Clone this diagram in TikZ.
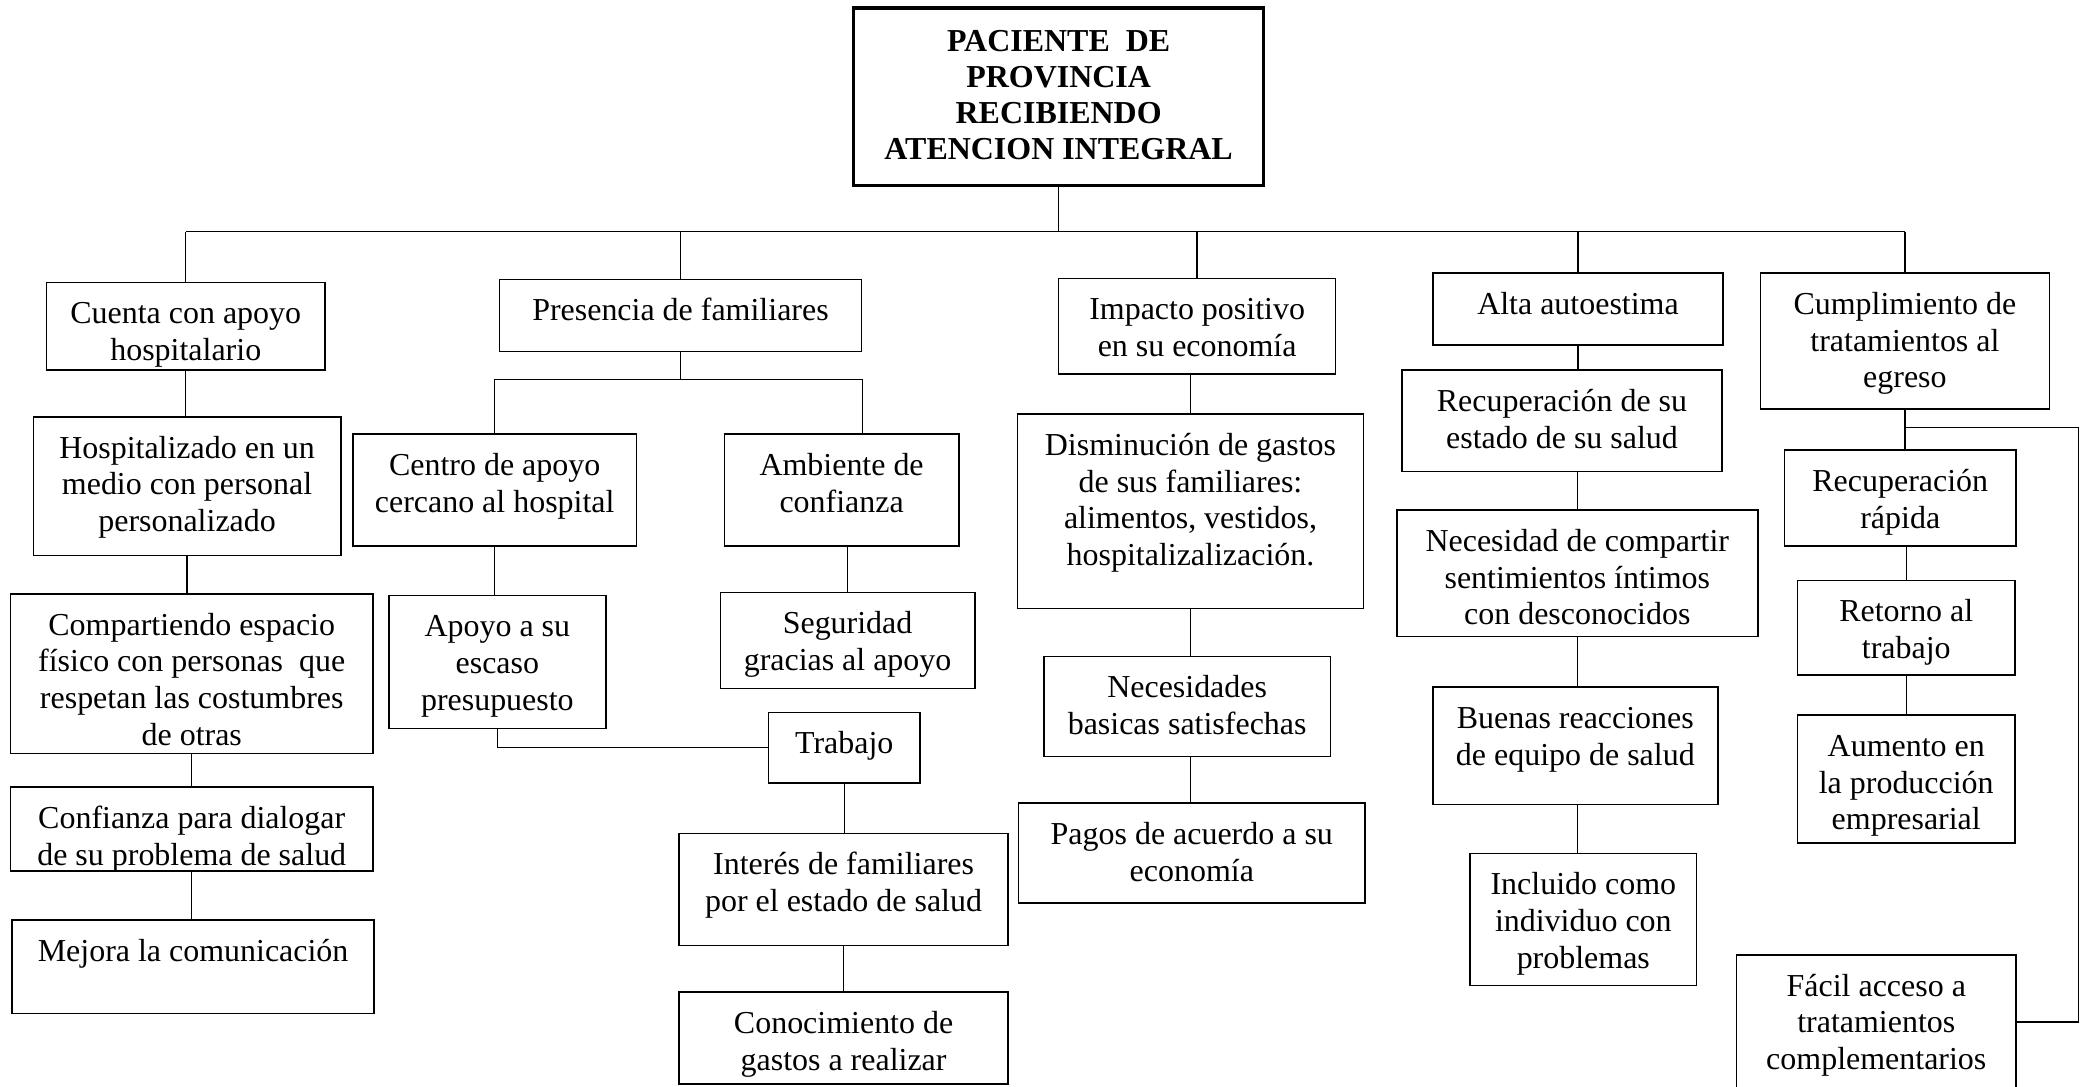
\documentclass[tikz,border=0pt]{standalone}
\usepackage{fontspec}
\setmainfont{Liberation Serif}
\usepackage{tikz}
\usetikzlibrary{positioning, calc}

\begin{document}
\begin{tikzpicture}[x=0.5pt, y=-0.5pt,
    box/.style={draw, line width=0.55pt, rectangle, align=flush center, inner sep=0pt,
      text height=15.5pt, font=\fontsize{12}{13.8}\selectfont},
    headbox/.style={draw, line width=1.2pt, rectangle, align=flush center, inner sep=0pt,
      text height=16.5pt, font=\bfseries\fontsize{12}{13.5}\selectfont},
    link/.style={line width=0.55pt}]
  \useasboundingbox (0,0) rectangle (1568,816);
  \clip (0,0) rectangle (1568,816);

  % main box
  \node[headbox, text width=154pt, text depth=50pt] (title) at (795,72.5)
    {PACIENTE\ \ DE\\PROVINCIA\\RECIBIENDO\\ATENCION INTEGRAL};

  % first row
  \node[box, text width=104.5pt, text depth=17.5pt] (cuenta) at (139.5,245) {Cuenta con apoyo\\hospitalario};
  \node[box, text width=136pt, text depth=11.5pt] (presencia) at (511,237) {Presencia de familiares};
  \node[box, text width=104pt, text depth=20.5pt] (impacto) at (899,245) {Impacto positivo\\en su economía};
  \node[box, text width=109pt, text depth=11.5pt] (alta) at (1185,232) {Alta autoestima};
  \node[box, text width=108.5pt, text depth=35.5pt] (cumpl) at (1430.5,256) {Cumplimiento de\\tratamientos al\\egreso};

  % apoyo hospitalario
  \node[box, text width=115.5pt, text depth=36.5pt] (hosp) at (140.5,365) {Hospitalizado en un\\medio con personal\\personalizado};
  \node[box, text width=136pt, text depth=44.5pt] (compart) at (144,506) {Compartiendo espacio\\físico con personas\ \ que\\respetan las costumbres\\de otras};
  \node[box, text width=136pt, text depth=16pt] (confianza) at (144,622.5) {Confianza para dialogar\\de su problema de salud};
  \node[box, text width=136pt, text depth=19.5pt] (mejora) at (145,726) {Mejora la comunicación};

  % familiares
  \node[box, text width=106.5pt, text depth=26.5pt] (centro) at (371.5,368) {Centro de apoyo\\cercano al hospital};
  \node[box, text width=88pt, text depth=26.5pt] (ambiente) at (632,368) {Ambiente de\\confianza};
  \node[box, text width=81.5pt, text depth=34.5pt] (apoyo) at (373.5,497) {Apoyo a su\\escaso\\presupuesto};
  \node[box, text width=95.5pt, text depth=20.5pt] (seguridad) at (636.5,481) {Seguridad\\gracias al apoyo};
  \node[box, text width=57pt, text depth=11pt] (trabajo) at (634,561.5) {Trabajo};
  \node[box, text width=123.5pt, text depth=26.5pt] (interes) at (633.5,668) {Interés de familiares\\por el estado de salud};
  \node[box, text width=123.5pt, text depth=19pt] (conoc) at (633.5,779.5) {Conocimiento de\\gastos a realizar};

  % economia
  \node[box, text width=130pt, text depth=57.5pt] (dismin) at (894,384) {Disminución de gastos\\de sus familiares:\\alimentos, vestidos,\\hospitalizalización.};
  \node[box, text width=107.5pt, text depth=22pt] (necesid) at (891.5,530.5) {Necesidades\\basicas satisfechas};
  \node[box, text width=130pt, text depth=22pt] (pagos) at (895,640.5) {Pagos de acuerdo a su\\economía};

  % autoestima
  \node[box, text width=120pt, text depth=22.5pt] (recup) at (1173,316) {Recuperación de su\\estado de su salud};
  \node[box, text width=135.5pt, text depth=32pt] (necesidad) at (1184.5,430.5) {Necesidad de compartir\\sentimientos íntimos\\con desconocidos};
  \node[box, text width=107pt, text depth=28.5pt] (buenas) at (1183,560) {Buenas reacciones\\de equipo de salud};
  \node[box, text width=85pt, text depth=34pt] (incluido) at (1189,690.5) {Incluido como\\individuo con\\problemas};

  % egreso
  \node[box, text width=87pt, text depth=20.5pt] (rrap) at (1427,374) {Recuperación\\rápida};
  \node[box, text width=81.5pt, text depth=20pt] (retorno) at (1431.5,471.5) {Retorno al\\trabajo};
  \node[box, text width=81.5pt, text depth=32.5pt] (aumento) at (1431.5,585) {Aumento en\\la producción\\empresarial};
  \node[box, text width=105pt, text depth=35pt] (facil) at (1409,767.5) {Fácil acceso a\\tratamientos\\complementarios};

  \coordinate (bar) at (793,174);
  \coordinate (pfork) at (511,285);
  \coordinate (cfork) at (1430.5,321);
  \coordinate (cright) at (1561,321);

  % top level
  \draw[link] (title.south) -- (title.south |- bar);
  \draw[link] (cuenta.north |- bar) -- (cumpl.north |- bar);
  \foreach \n in {cuenta, presencia, impacto, alta, cumpl}
    \draw[link] (\n.north) -- (\n.north |- bar);

  % apoyo hospitalario
  \draw[link] (cuenta.south) -- (cuenta.south |- hosp.north);
  \draw[link] (hosp.south) -- (hosp.south |- compart.north);
  \draw[link] (compart.south) -- (compart.south |- confianza.north);
  \draw[link] (confianza.south) -- (confianza.south |- mejora.north);

  % familiares
  \draw[link] (presencia.south) -- (pfork);
  \draw[link] (centro.north) -- (centro.north |- pfork) -- (presencia.south east |- pfork)
    -- (presencia.south east |- ambiente.north);
  \draw[link] (centro.south) -- (centro.south |- apoyo.north);
  \draw[link] (seguridad.north) -- (seguridad.north |- ambiente.south);
  \draw[link] (apoyo.south) |- (trabajo.west);
  \draw[link] (trabajo.south) -- (trabajo.south |- interes.north);
  \draw[link] (interes.south) -- (interes.south |- conoc.north);

  % economia
  \draw[link] (dismin.north |- impacto.south) -- (dismin.north);
  \draw[link] (dismin.south) -- (dismin.south |- necesid.north);
  \draw[link] (dismin.south |- necesid.south) -- (dismin.south |- pagos.north);

  % autoestima
  \draw[link] (alta.south) -- (alta.south |- recup.north);
  \draw[link] (necesidad.north |- recup.south) -- (necesidad.north);
  \draw[link] (necesidad.south) -- (necesidad.south |- buenas.north);
  \draw[link] (necesidad.south |- buenas.south) -- (necesidad.south |- incluido.north);

  % egreso
  \draw[link] (cumpl.south) -- (cumpl.south |- rrap.north);
  \draw[link] (cfork) -- (cright) |- (facil.east);
  \draw[link] (retorno.north |- rrap.south) -- (retorno.north);
  \draw[link] (retorno.south) -- (retorno.south |- aumento.north);
\end{tikzpicture}
\end{document}
